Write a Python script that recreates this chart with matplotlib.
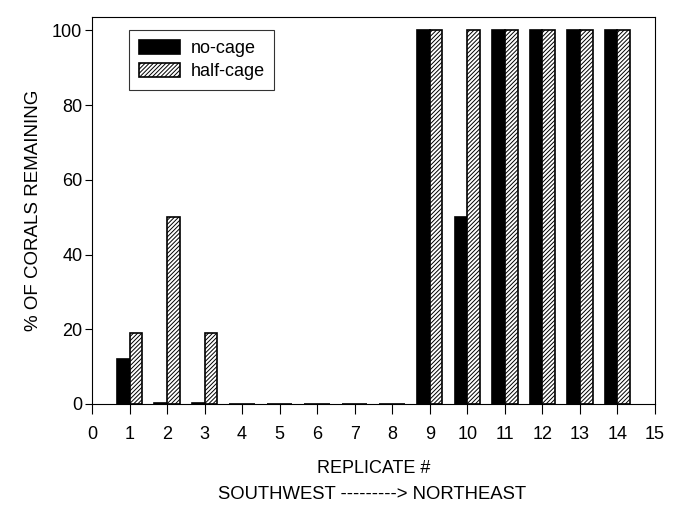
import numpy as np
import matplotlib
matplotlib.use("Agg")
import matplotlib.pyplot as plt

replicates = np.arange(1, 15)
no_cage = [12, 0.4, 0.4, 0, 0, 0, 0, 0, 100, 50, 100, 100, 100, 100]
half_cage = [19, 50, 19, 0, 0, 0, 0, 0, 100, 100, 100, 100, 100, 100]

plt.rcParams["font.family"] = ["Liberation Sans", "DejaVu Sans"]
plt.rcParams["hatch.linewidth"] = 0.7
plt.rcParams["hatch.color"] = "#444444"

fig = plt.figure(figsize=(6.79, 5.05), dpi=100)
ax = fig.add_axes([0.1355, 0.2, 0.829, 0.766])

w = 0.34
ax.bar(replicates - w / 2, no_cage, width=w, color="black", edgecolor="black",
       linewidth=1.2, label="no-cage", clip_on=False)
ax.bar(replicates + w / 2, half_cage, width=w, color="white", edgecolor="black",
       linewidth=1.2, hatch="////////", label="half-cage", clip_on=False)

ax.set_xlim(0, 15)
ax.set_ylim(0, 103.5)
ax.set_xticks(range(0, 16))
ax.set_yticks(range(0, 101, 20))
ax.tick_params(axis="x", direction="out", length=7, width=0.8, labelsize=13, pad=9)
ax.tick_params(axis="y", direction="out", length=5, width=0.8, labelsize=13, pad=2)
for s in ax.spines.values():
    s.set_linewidth(0.8)

ax.set_ylabel("% OF CORALS REMAINING", fontsize=13.5, labelpad=7)
ax.set_xlabel("REPLICATE #", fontsize=13, labelpad=12)
fig.text(0.548, 0.012, "SOUTHWEST ---------> NORTHEAST", fontsize=13.3, ha="center")

leg = ax.legend(loc="upper left", bbox_to_anchor=(129 / 679, 1 - 30 / 505),
                bbox_transform=fig.transFigure, fontsize=13,
                frameon=True, fancybox=False, edgecolor="black", handlelength=2.3,
                handleheight=0.8, borderpad=0.55, labelspacing=0.33, handletextpad=0.55,
                borderaxespad=0)
leg.get_frame().set_linewidth(0.8)

fig.savefig("out.png", dpi=100)
